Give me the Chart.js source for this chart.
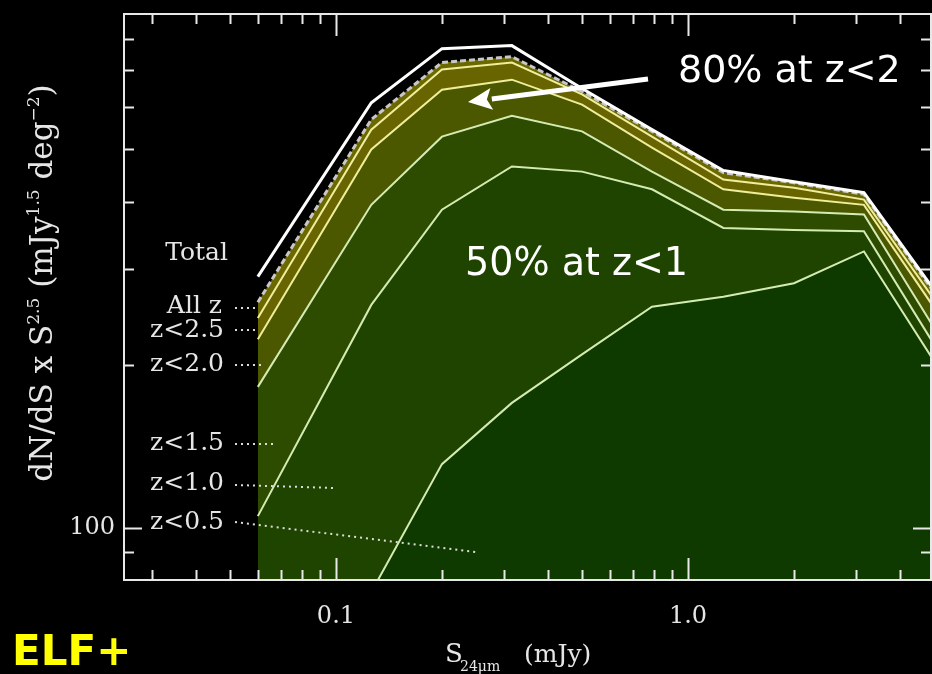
<!DOCTYPE html>
<html>
<head>
<meta charset="utf-8">
<script src="https://cdn.jsdelivr.net/npm/chart.js@4.4.0/dist/chart.umd.min.js"></script>
<style>
  html, body { margin: 0; padding: 0; background: #000; }
  #wrap { width: 932px; height: 674px; position: relative; }
</style>
</head>
<body>
<div id="wrap"><canvas id="c"></canvas></div>
<script>
// 24um flux bins (mJy)
const fluxBins = [0.06, 0.126, 0.2, 0.316, 0.5, 0.79, 1.26, 2.0, 3.16, 5.0];

// dN/dS x S^2.5, cumulative by redshift
const totalCounts = [291, 610, 768, 778, 648, 544, 457, 436, 416, 275];
const allZ  = [261, 568, 724, 742, 640, 540, 453, 434, 413, 272];
const zLt25 = [244, 544, 703, 724, 632, 528, 440, 425, 404, 264];
const zLt20 = [223, 500, 645, 673, 605, 504, 422, 407, 395, 255];
const zLt15 = [182, 395, 528, 577, 540, 455, 387, 384, 379, 234];
const zLt10 = [105, 258, 387, 465, 455, 422, 358, 355, 353, 218];
const zLt05 = [31, 76, 131, 170, 209, 256, 267, 283, 324, 203];

const seriesLabels = ['Total', 'All z', 'z<2.5', 'z<2.0', 'z<1.5', 'z<1.0', 'z<0.5'];

// axis ticks
const xMajor = [0.1, 1];
const xMajorLabels = ['0.1', '1.0'];
const xMinor = [0.03, 0.04, 0.05, 0.06, 0.07, 0.08, 0.09, 0.2, 0.3, 0.4, 0.5, 0.6, 0.7, 0.8, 0.9, 2, 3, 4];
const yMajor = [100];
const yMajorLabels = ['100'];
const yMinor = [90, 200, 300, 400, 500, 600, 700, 800];

const SERIF = '"DejaVu Serif", serif';
const pts = arr => fluxBins.map((x, i) => ({ x, y: arr[i] }));

const styles = [
  { border: '#ffffff', width: 3, fill: false },
  { border: '#c8c8c8', width: 3, dash: [6, 3], fill: '+1', bg: '#6c6800' },
  { border: '#eeee9c', width: 2, fill: '+1', bg: '#686500' },
  { border: '#eeee9c', width: 2, fill: '+1', bg: '#4c5800' },
  { border: '#d4ecb4', width: 2, fill: '+1', bg: '#2e4c00' },
  { border: '#d4ecb4', width: 2, fill: '+1', bg: '#1e4400' },
  { border: '#d4ecb4', width: 2, fill: 'start', bg: '#0e3a00' }
];
const series = [totalCounts, allZ, zLt25, zLt20, zLt15, zLt10, zLt05];

const datasets = series.map((arr, i) => ({
  label: seriesLabels[i],
  data: pts(arr),
  borderColor: styles[i].border,
  borderWidth: styles[i].width,
  borderDash: styles[i].dash || [],
  backgroundColor: styles[i].bg || 'transparent',
  fill: styles[i].fill,
  pointRadius: 0,
  tension: 0
}));

// 坐标框 + 向内刻度
const frame = {
  id: 'frame',
  afterDatasetsDraw(chart) {
    const { ctx, chartArea: a, scales: { x, y } } = chart;
    ctx.save();
    ctx.strokeStyle = '#e8e8e8';
    ctx.lineWidth = 2;
    ctx.strokeRect(a.left, a.top, a.right - a.left, a.bottom - a.top);
    ctx.beginPath();
    const xt = (v, len) => {
      const p = Math.round(x.getPixelForValue(v)) + 0.5;
      ctx.moveTo(p, a.bottom); ctx.lineTo(p, a.bottom - len);
      ctx.moveTo(p, a.top); ctx.lineTo(p, a.top + len);
    };
    const yt = (v, len) => {
      const p = Math.round(y.getPixelForValue(v)) + 0.5;
      ctx.moveTo(a.left, p); ctx.lineTo(a.left + len, p);
      ctx.moveTo(a.right, p); ctx.lineTo(a.right - len, p);
    };
    xMinor.forEach(v => xt(v, 10));
    xMajor.forEach(v => xt(v, 22));
    yMinor.forEach(v => yt(v, 10));
    yMajor.forEach(v => yt(v, 18));
    ctx.stroke();
    ctx.restore();
  },
  afterDraw(chart) {
    const { ctx } = chart;
    ctx.save();

    // series labels on the left
    ctx.fillStyle = '#e6e6e6';
    ctx.font = `25px ${SERIF}`;
    ctx.textAlign = 'right';
    ctx.textBaseline = 'middle';
    const labelY = [253, 306, 330, 364, 443, 483, 522];
    const labelR = [228, 222, 224, 224, 224, 224, 224];
    seriesLabels.forEach((t, i) => ctx.fillText(t, labelR[i], labelY[i]));

    // dotted leaders
    ctx.strokeStyle = '#dcdcdc';
    ctx.lineWidth = 2;
    ctx.setLineDash([2, 4]);
    const leaders = [
      [235, 308, 256, 308], [235, 330, 258, 330], [235, 365, 262, 365],
      [235, 444, 276, 444], [235, 485, 335, 488], [235, 522, 476, 552]
    ];
    leaders.forEach(([x1, y1, x2, y2]) => {
      ctx.beginPath(); ctx.moveTo(x1, y1); ctx.lineTo(x2, y2); ctx.stroke();
    });
    ctx.setLineDash([]);

    // 80% arrow
    const tail = [648, 79], tip = [468, 102];
    const dx = tip[0] - tail[0], dy = tip[1] - tail[1];
    const L = Math.hypot(dx, dy), ux = dx / L, uy = dy / L;
    const hb = [tip[0] - ux * 24, tip[1] - uy * 24];
    ctx.strokeStyle = '#ffffff';
    ctx.fillStyle = '#ffffff';
    ctx.lineWidth = 5;
    ctx.beginPath(); ctx.moveTo(tail[0], tail[1]); ctx.lineTo(hb[0], hb[1]); ctx.stroke();
    ctx.beginPath();
    ctx.moveTo(tip[0], tip[1]);
    ctx.lineTo(hb[0] - uy * 11, hb[1] + ux * 11);
    ctx.lineTo(hb[0] + ux * 5, hb[1] + uy * 5);
    ctx.lineTo(hb[0] + uy * 11, hb[1] - ux * 11);
    ctx.closePath();
    ctx.fill();

    // big annotations
    ctx.textAlign = 'left';
    ctx.textBaseline = 'alphabetic';
    ctx.font = '38px "DejaVu Sans", sans-serif';
    ctx.fillText('80% at z<2', 678, 82, 227);
    ctx.font = '39px "DejaVu Sans", sans-serif';
    ctx.fillText('50% at z<1', 465, 275, 223);

    ctx.fillStyle = '#ffff00';
    ctx.font = 'bold 42px "DejaVu Sans", sans-serif';
    ctx.fillText('ELF+', 12, 665, 121);

    // x title: S_24um (mJy)
    ctx.fillStyle = '#e6e6e6';
    ctx.font = `26px ${SERIF}`;
    ctx.fillText('S', 445, 662);
    ctx.font = `14px ${SERIF}`;
    ctx.fillText('24\u03bcm', 460, 671);
    ctx.font = `25px ${SERIF}`;
    ctx.fillText('(mJy)', 524, 662);

    // y title
    const parts = [
      ['dN/dS x S', 0], ['2.5', 1], [' (mJy', 0], ['1.5', 1], [' deg', 0], ['\u22122', 1], [')', 0]
    ];
    const big = `31px ${SERIF}`, small = `17px ${SERIF}`;
    let w = 0;
    parts.forEach(([t, s]) => { ctx.font = s ? small : big; w += ctx.measureText(t).width; });
    ctx.translate(41, 283);
    ctx.rotate(-Math.PI / 2);
    let cx = -w / 2;
    parts.forEach(([t, s]) => {
      ctx.font = s ? small : big;
      ctx.fillText(t, cx, s ? -2 : 11);
      cx += ctx.measureText(t).width;
    });
    ctx.restore();
  }
};

new Chart(document.getElementById('c'), {
  type: 'line',
  data: { datasets },
  options: {
    responsive: true,
    maintainAspectRatio: false,
    animation: false,
    layout: { padding: { top: 14, right: 1, left: 0, bottom: 0 } },
    plugins: {
      legend: { display: false },
      tooltip: { enabled: false },
      filler: { drawTime: 'beforeDatasetsDraw' }
    },
    scales: {
      x: {
        type: 'logarithmic',
        min: 0.025,
        max: 4.9,
        grid: { display: false, drawTicks: false },
        border: { display: false },
        afterFit: s => { s.height = 94; s.paddingLeft = 0; s.paddingRight = 0; },
        afterBuildTicks: s => { s.ticks = xMajor.map(v => ({ value: v })); },
        ticks: {
          autoSkip: false, maxRotation: 0, padding: 22,
          color: '#e6e6e6', font: { family: SERIF, size: 24 },
          callback: v => xMajorLabels[xMajor.indexOf(v)] ?? ''
        }
      },
      y: {
        type: 'logarithmic',
        min: 80,
        max: 890,
        grid: { display: false, drawTicks: false },
        border: { display: false },
        afterFit: s => { s.width = 124; s.paddingTop = 0; s.paddingBottom = 0; },
        afterBuildTicks: s => { s.ticks = yMajor.map(v => ({ value: v })); },
        ticks: {
          autoSkip: false, padding: 9,
          color: '#e6e6e6', font: { family: SERIF, size: 24 },
          callback: v => yMajorLabels[yMajor.indexOf(v)] ?? ''
        }
      }
    }
  },
  plugins: [frame]
});
</script>
</body>
</html>
